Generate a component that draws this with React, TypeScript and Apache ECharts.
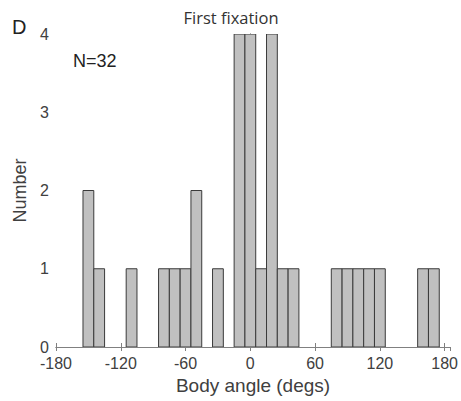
import React, { useEffect, useRef } from "react";
import * as echarts from "echarts";

// Histogram data (bin centers in degrees, counts)
const binCenters = [-150, -140, -110, -80, -70, -60, -50, -30, -10, 0, 10, 20, 30, 40, 80, 90, 100, 110, 120, 160, 170];
const counts = [2, 1, 1, 1, 1, 1, 2, 1, 4, 4, 1, 4, 1, 1, 1, 1, 1, 1, 1, 1, 1];
const binWidth = 10;
const xMin = -180;
const xMax = 185;
const xInterval = 60;
const yMin = 0;
const yMax = 4;
const yInterval = 1;
const titleText = "First fixation";
const panelLabel = "D";
const nText = "N=32";
const xName = "Body angle (degs)";
const yName = "Number";

const FONT = "'Liberation Sans', Arial, sans-serif";
const TEXT = "#404040";
const AXIS = "#808080";

export default function App() {
  const ref = useRef<HTMLDivElement>(null);
  useEffect(() => {
    if (!ref.current) return;
    const chart = echarts.init(ref.current, null, { renderer: "svg" });
    const data = binCenters.map((c, i) => [c, counts[i]]);
    const axisCommon = {
      axisLine: { show: true, lineStyle: { color: AXIS, width: 1 } },
      axisTick: { show: true, inside: true, length: 4, lineStyle: { color: AXIS } },
      splitLine: { show: false },
    };
    chart.setOption({
      animation: false,
      grid: { left: 56, right: 9, top: 34, bottom: 54, show: false },
      xAxis: [
        {
          type: "value",
          min: xMin,
          max: xMax,
          interval: xInterval,
          position: "bottom",
          ...axisCommon,
          axisLabel: { color: TEXT, fontSize: 16, fontFamily: FONT, margin: 8, showMaxLabel: false },
          name: xName,
          nameLocation: "middle",
          nameGap: 28,
          nameTextStyle: { color: TEXT, fontSize: 19, fontFamily: FONT },
        },
        {
          type: "value",
          min: xMin,
          max: xMax,
          interval: xInterval,
          position: "top",
          ...axisCommon,
          axisLabel: { show: false },
        },
      ],
      yAxis: [
        {
          type: "value",
          min: yMin,
          max: yMax,
          interval: yInterval,
          position: "left",
          ...axisCommon,
          axisLabel: { color: TEXT, fontSize: 16, fontFamily: FONT, margin: 7 },
          name: yName,
          nameLocation: "middle",
          nameGap: 27,
          nameTextStyle: { color: TEXT, fontSize: 18, fontFamily: FONT },
        },
        {
          type: "value",
          min: yMin,
          max: yMax,
          interval: yInterval,
          position: "right",
          ...axisCommon,
          axisLabel: { show: false },
        },
      ],
      series: [
        {
          type: "custom",
          xAxisIndex: 0,
          yAxisIndex: 0,
          encode: { x: 0, y: 1 },
          data,
          clip: true,
          renderItem: (params: any, api: any) => {
            const c = api.value(0);
            const v = api.value(1);
            const p0 = api.coord([c - binWidth / 2, v]);
            const p1 = api.coord([c + binWidth / 2, 0]);
            return {
              type: "rect",
              shape: { x: p0[0], y: p0[1], width: p1[0] - p0[0], height: p1[1] - p0[1] },
              style: { fill: "#c0c0c0", stroke: "#3a3a3a", lineWidth: 1 },
            };
          },
        },
      ],
      graphic: [
        {
          type: "text",
          x: 231,
          y: 17,
          style: { text: titleText, fill: "#333", font: "16.5px 'Open Sans', sans-serif", align: "center", verticalAlign: "middle" },
        },
        {
          type: "text",
          x: 12,
          y: 27,
          style: { text: panelLabel, fill: "#222", font: `20px ${FONT}`, align: "left", verticalAlign: "middle" },
        },
        {
          type: "text",
          x: 73,
          y: 61,
          style: { text: nText, fill: "#222", font: `18px ${FONT}`, align: "left", verticalAlign: "middle" },
        },
      ],
    });
    return () => chart.dispose();
  }, []);
  return (
    <div
      ref={ref}
      style={{ position: "fixed", left: 0, top: 0, width: 461, height: 401, background: "#fff" }}
    />
  );
}
